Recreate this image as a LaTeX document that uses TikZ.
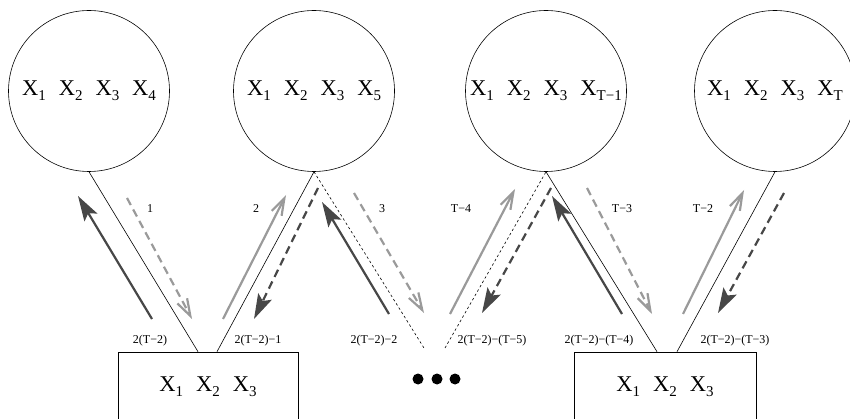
\documentclass[tikz,border=0pt]{standalone}
\usepackage{fontspec}
\setmainfont{Liberation Serif}
\usetikzlibrary{arrows.meta,calc}
\newcommand\Xs[1]{X\raisebox{-5pt}{\fontsize{15}{15}\selectfont #1}}
\newcommand\gp{\hspace{13pt}}
\newcommand\dn[1]{\raisebox{-5pt}{#1}}
\definecolor{darkg}{HTML}{474747}
\definecolor{lightg}{HTML}{9A9A9A}
\begin{document}
\begin{tikzpicture}[x=1pt,y=-1pt,
  state/.style={circle,draw,line width=0.6pt,minimum size=161pt,inner sep=0pt,font=\fontsize{22.5}{22.5}\selectfont},
  boxst/.style={draw,line width=0.6pt,minimum height=70pt,inner sep=0pt,font=\fontsize{22.5}{22.5}\selectfont},
  link/.style={line width=0.6pt},
  dotlink/.style={line width=0.6pt,dash pattern=on 2.5pt off 2.5pt},
  lbl/.style={font=\fontsize{12}{12}\selectfont,inner sep=0pt},
  darkup/.style={darkg,line width=2.2pt,-{Stealth[length=25pt 0 0,width=15pt 0,inset=5pt 0]}},
  darkdn/.style={darkg,line width=2.2pt,dash pattern=on 8pt off 5pt,-{Stealth[length=25pt 0 0,width=15pt 0,inset=5pt 0]}},
  grayup/.style={lightg,line width=2.2pt,-{Straight Barb[length=17pt 0 0,width=11pt 0]}},
  graydn/.style={lightg,line width=2.2pt,dash pattern=on 8pt off 5pt,-{Straight Barb[length=17pt 0 0,width=11pt 0]}},
  dotst/.style={circle,fill=black,minimum size=11pt,inner sep=0pt}]
\useasboundingbox (0,0) rectangle (850,419);
\clip (0,0) rectangle (850,419);
% states
\node[state] (c1) at (89,91) {\dn{\Xs{1}\gp\Xs{2}\gp\Xs{3}\gp\Xs{4}}};
\node[state] (c2) at (314,91) {\dn{\Xs{1}\gp\Xs{2}\gp\Xs{3}\gp\Xs{5}}};
\node[state] (c3) at (546,91) {\dn{\Xs{1}\gp\Xs{2}\gp\Xs{3}\gp\Xs{T−1}}};
\node[state] (c4) at (775,91) {\dn{\Xs{1}\gp\Xs{2}\gp\Xs{3}\gp\Xs{T}}};
% boxes
\node[boxst,minimum width=180pt] (b1) at (208,387) {\dn{\Xs{1}\gp\Xs{2}\gp\Xs{3}}};
\node[boxst,minimum width=182pt] (b2) at (665,387) {\dn{\Xs{1}\gp\Xs{2}\gp\Xs{3}}};
% dots
\node[dotst] (d1) at (418,379) {};
\node[dotst] (d2) at (437,379) {};
\node[dotst] (d3) at (455,379) {};
% attachment points
\coordinate (b1l) at ($(b1.north)+(-10,0)$);
\coordinate (b1r) at ($(b1.north)+(9,0)$);
\coordinate (b2l) at ($(b2.north)+(-8,0)$);
\coordinate (b2r) at ($(b2.north)+(12,0)$);
\coordinate (e1) at (424,348);
\coordinate (e2) at (445,348);
% links
\draw[link] (c1.south) -- (b1l);
\draw[link] (b1r) -- (c2.south);
\draw[dotlink] (c2.south) -- (e1);
\draw[dotlink] (e2) -- (c3.south);
\draw[link] (c3.south) -- (b2l);
\draw[link] (b2r) -- (c4.south);
% arrows
\draw[darkup] (152,319) -- (78,196);
\draw[graydn] (127,198) -- (192,319);
\draw[grayup] (223,319) -- (286,195);
\draw[darkdn] (318,188) -- (254,319);
\draw[darkup] (389,314) -- (322,202);
\draw[graydn] (354,193) -- (424,313);
\draw[grayup] (450,314) -- (515,189);
\draw[darkdn] (551,188) -- (482,313);
\draw[darkup] (622,314) -- (552,196);
\draw[graydn] (587,188) -- (652,314);
\draw[grayup] (683,314) -- (744,190);
\draw[darkdn] (784,193) -- (718,313);
% labels
\node[lbl] (l1) at (150,209) {1};
\node[lbl] (l2) at (256,209) {2};
\node[lbl] (l3) at (382,209) {3};
\node[lbl] (l4) at (461,209) {T−4};
\node[lbl] (l5) at (622,209) {T−3};
\node[lbl] (l6) at (703,209) {T−2};
\node[lbl] (m1) at (150,341) {2(T−2)};
\node[lbl] (m2) at (258,341) {2(T−2)−1};
\node[lbl] (m3) at (374,341) {2(T−2)−2};
\node[lbl] (m4) at (492,341) {2(T−2)−(T−5)};
\node[lbl] (m5) at (599,341) {2(T−2)−(T−4)};
\node[lbl] (m6) at (735,341) {2(T−2)−(T−3)};
\end{tikzpicture}
\end{document}
